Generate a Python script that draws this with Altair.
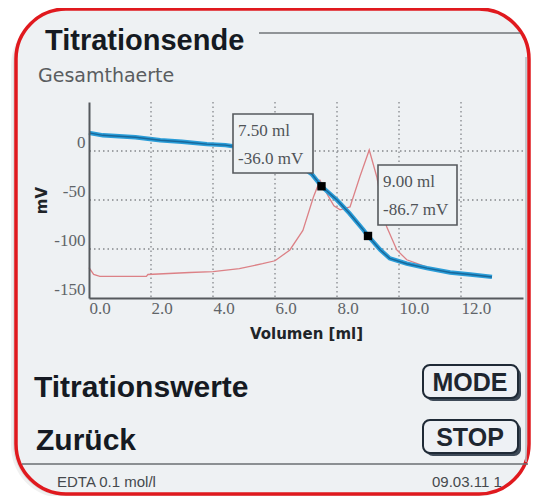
import altair as alt
import pandas as pd

# ---- data ----
vol_blue = [0.0, 0.45, 1.5, 2.3, 3.0, 3.8, 4.4, 5.5, 6.5, 7.2, 7.5, 8.0, 8.4, 8.85, 9.0, 9.4, 9.7, 10.25, 10.9, 11.65, 12.3, 13.0]
mv_blue = [18.5, 16.0, 14.0, 11.0, 9.5, 7.0, 6.0, 1.0, -8.0, -24.0, -36.0, -50.0, -63.5, -80.5, -86.7, -101.0, -109.5, -115.0, -119.5, -124.0, -126.0, -128.5]

vol_red = [0.0, 0.15, 0.35, 1.85, 1.9, 3.25, 4.0, 4.85, 5.6, 6.0, 6.48, 6.9, 7.24, 7.45, 7.7, 7.9, 8.1, 8.42, 8.74, 9.04, 9.28, 9.6, 9.93, 10.25, 10.68, 10.95]
mv_red = [-119.0, -126.0, -128.0, -128.0, -126.0, -124.0, -123.0, -120.0, -115.0, -112.0, -101.0, -81.0, -47.0, -30.0, -45.0, -56.0, -60.0, -57.0, -26.0, 1.0, -26.0, -77.0, -101.0, -111.0, -116.0, -119.0]

marker_vol = [7.5, 9.0]
marker_mv = [-36.0, -86.7]

x_ticks = [0, 2, 4, 6, 8, 10, 12]
y_ticks = [0, -50, -100, -150]
x_grid = [2, 4, 6, 8, 10, 12]
y_grid = [0, -50, -100]

X_DOMAIN = [0, 14]
Y_DOMAIN = [-150, 50]

blue = pd.DataFrame({"vol": vol_blue, "mv": mv_blue})
red = pd.DataFrame({"vol": vol_red, "mv": mv_red})
markers = pd.DataFrame({"vol": marker_vol, "mv": marker_mv})
xg = pd.DataFrame({"v": x_grid})
yg = pd.DataFrame({"v": y_grid})
one = pd.DataFrame({"k": [0]})

xs = alt.Scale(domain=X_DOMAIN, nice=False, zero=False)
ys = alt.Scale(domain=Y_DOMAIN, nice=False, zero=False)

SANS = "Liberation Sans, Arial, sans-serif"
SERIF = "Liberation Serif, DejaVu Serif, serif"


def rect(x, x2, y, y2, **kw):
    return alt.Chart(one).mark_rect(**kw).encode(
        x=alt.value(x), x2=alt.value(x2), y=alt.value(y), y2=alt.value(y2)
    )


def rule(x, x2, y, y2, **kw):
    return alt.Chart(one).mark_rule(**kw).encode(
        x=alt.value(x), x2=alt.value(x2), y=alt.value(y), y2=alt.value(y2)
    )


def label(txt, x, y, **kw):
    return alt.Chart(one).mark_text(text=txt, **kw).encode(
        x=alt.value(x), y=alt.value(y)
    )


# ---- device frame ----
shadow1 = rect(-78, 436, -89, 396, cornerRadius=52, fill="#000000", opacity=0.06)
shadow2 = rect(-76, 438, -91, 394, cornerRadius=52, fill="#000000", opacity=0.08)
frame = rect(-73, 440, -93, 392, cornerRadius=50, fill="#eef1f3",
             stroke="#e0191e", strokeWidth=3.5)

# ---- header ----
title = label("Titrationsende", -44, -52, align="left", baseline="alphabetic",
              font=SANS, fontSize=29, fontWeight="bold", color="#151a22")
title_rule = rule(170, 431, -69, -69, color="#707478", strokeWidth=1.6)
subtitle = label("Gesamthaerte", -51, -20, align="left", baseline="alphabetic",
                 font="DejaVu Sans", fontSize=19, color="#5a5d60")
right_edge = rule(437, 437, -45, 360, color="#b4bac0", strokeWidth=1.5)

# ---- grid ----
vgrid = alt.Chart(xg).mark_rule(color="#85888c", strokeWidth=1.3, strokeDash=[1.5, 3]).encode(
    x=alt.X("v:Q", scale=xs, axis=None)
)
hgrid = alt.Chart(yg).mark_rule(color="#85888c", strokeWidth=1.3, strokeDash=[1.5, 3]).encode(
    y=alt.Y("v:Q", scale=ys, axis=None)
)

# ---- curves ----
red_line = alt.Chart(red).mark_line(color="#dc8186", strokeWidth=1.3).encode(
    x=alt.X("vol:Q", scale=xs, axis=None),
    y=alt.Y("mv:Q", scale=ys, axis=None),
)

blue_line = alt.Chart(blue).mark_line(color="#2a9dd8", strokeWidth=4.4).encode(
    x=alt.X(
        "vol:Q", scale=xs,
        axis=alt.Axis(values=x_ticks, format=".1f", labelAlign="left", labelFlush=False,
                      labelPadding=2, title="Volumen [ml]", titlePadding=10, zindex=2),
    ),
    y=alt.Y(
        "mv:Q", scale=ys,
        axis=alt.Axis(values=y_ticks, labelExpr="'' + datum.value", labelBaseline="bottom",
                      labelPadding=4, title="mV", titlePadding=4, zindex=2),
    ),
)
blue_core = alt.Chart(blue).mark_line(color="#18679a", strokeWidth=1.4).encode(
    x=alt.X("vol:Q", scale=xs, axis=None),
    y=alt.Y("mv:Q", scale=ys, axis=None),
)

pts = alt.Chart(markers).mark_square(size=70, color="#000000", opacity=1).encode(
    x=alt.X("vol:Q", scale=xs, axis=None),
    y=alt.Y("mv:Q", scale=ys, axis=None),
)

# ---- annotation boxes ----
ann = []
boxes = [(144, 224, 12, 71), (289, 368, 63, 123)]
for i, (bx, bx2, by, by2) in enumerate(boxes):
    ann.append(rect(bx, bx2, by, by2, fill="#eef2f4", stroke="#55595d", strokeWidth=1.6))
    ann.append(label(f"{marker_vol[i]:.2f} ml", bx + 5, by + 17, align="left", baseline="middle",
                     font=SERIF, fontSize=17, color="#505458"))
    ann.append(label(f"{marker_mv[i]:.1f} mV", bx + 5, by + 45, align="left", baseline="middle",
                     font=SERIF, fontSize=17, color="#505458"))

# ---- bottom menu ----
menu1 = label("Titrationswerte", -55, 295, align="left", baseline="alphabetic",
              font=SANS, fontSize=30, fontWeight="bold", color="#151a22")
menu2 = label("Zurück", -53, 348, align="left", baseline="alphabetic",
              font=SANS, fontSize=30, fontWeight="bold", color="#151a22")

buttons = []
for name, y0, y1 in [("MODE", 263, 296), ("STOP", 318, 351)]:
    buttons.append(rect(337, 432, y0 + 3, y1 + 3, cornerRadius=7, fill="#3e4a58"))
    buttons.append(rect(334, 429, y0, y1, cornerRadius=7, fill="#eef1f5",
                        stroke="#1f2a36", strokeWidth=2))
    buttons.append(label(name, 381, (y0 + y1) / 2 + 1, align="center", baseline="middle",
                         font=SANS, fontSize=25, fontWeight="bold", color="#1e2630"))

status_rule = rule(-67, 439, 362, 362, color="#6a6e72", strokeWidth=1.5)
status_l = label("EDTA 0.1 mol/l", -32, 380, align="left", baseline="middle",
                 font=SANS, fontSize=15, color="#45494d")
status_r = label("09.03.11 1", 343, 380, align="left", baseline="middle",
                 font=SANS, fontSize=15, color="#45494d")

chart = alt.layer(
    shadow1, shadow2, frame,
    title, title_rule, subtitle, right_edge,
    vgrid, hgrid,
    red_line, blue_line, blue_core, pts,
    *ann,
    menu1, menu2, *buttons,
    status_rule, status_l, status_r,
).resolve_axis(
    x="independent", y="independent"
).properties(
    width=434,
    height=196,
    autosize=alt.AutoSizeParams(type="none"),
    padding={"left": 81, "top": 94, "right": 9, "bottom": 198},
    background="#ffffff",
).configure_view(
    stroke=None
).configure_axis(
    grid=False,
    ticks=False,
    domainColor="#55595d",
    domainWidth=2,
    labelFont=SERIF,
    labelFontSize=17,
    labelColor="#606468",
    titleFont="DejaVu Sans",
    titleFontSize=15,
    titleFontWeight="bold",
    titleColor="#202428",
)

chart.save("out.html", embed_options={"renderer": "svg", "actions": False})
